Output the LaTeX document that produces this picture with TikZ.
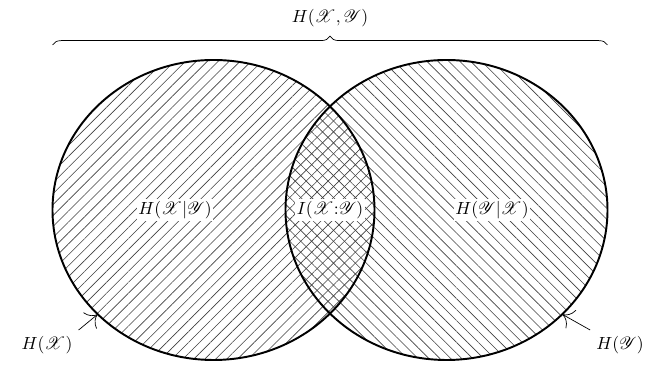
\documentclass[tikz,border=0pt]{standalone}
\usepackage{amsmath}
\usepackage{mathrsfs}
\usetikzlibrary{arrows.meta,shapes.geometric,patterns.meta,decorations.pathreplacing}

\begin{document}
\begin{tikzpicture}[line width=0.4pt,>={To[length=2mm]},
  set/.style={ellipse,minimum width=6.44cm,minimum height=6cm,inner sep=0pt},
  lbl/.style={fill=white,inner sep=1pt}]
  \useasboundingbox (0,0) rectangle (12.92,7.34);
  % conjuntos
  \node[set,pattern={Lines[angle=45,distance=4.4pt,line width=0.35pt]},pattern color=black!75] (X) at (4.27,3.14){};
  \node[set,pattern={Lines[angle=-45,distance=4.4pt,line width=0.35pt]},pattern color=black!75] (Y) at (8.93,3.14){};
  \draw[line width=1.1pt] (4.27,3.14) ellipse (3.22cm and 3cm);
  \draw[line width=1.1pt] (8.93,3.14) ellipse (3.22cm and 3cm);
  % etiquetas
  \node[lbl] (HXY) at (3.5,3.14){$H(\mathscr{X}|\mathscr{Y})$};
  \node[lbl] (IXY) at (6.6,3.14){$I(\mathscr{X}{:}\mathscr{Y})$};
  \node[lbl] (HYX) at (9.84,3.14){$H(\mathscr{Y}|\mathscr{X})$};
  % llave
  \coordinate (bl) at (1.05,6.44); \coordinate (br) at (12.15,6.44);
  \draw[decorate,decoration={brace,amplitude=5pt}] (bl)--(br);
  \node (HJ) at (6.6,6.98){$H(\mathscr{X},\mathscr{Y})$};
  % flechas
  \node (HX) at (0.94,0.44){$H(\mathscr{X})$};
  \node (HY) at (12.4,0.44){$H(\mathscr{Y})$};
  \draw[->] (HX.north east)--(X.222);
  \draw[->] (HY.north west)--(Y.-42);
\end{tikzpicture}
\end{document}
